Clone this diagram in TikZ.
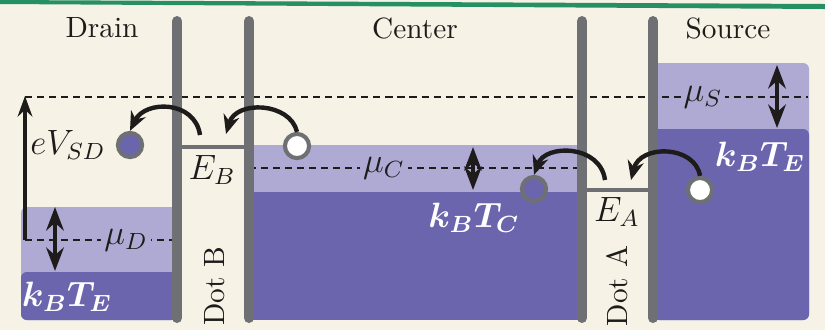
\documentclass[tikz,border=0pt]{standalone}
\usepackage{amsmath}
\usepackage{bm}
\usepackage{tikz}
\usetikzlibrary{arrows.meta,positioning}
\definecolor{dqcream}{RGB}{246,242,230}
\definecolor{dqlight}{RGB}{174,170,212}
\definecolor{dqdark}{RGB}{107,101,174}
\definecolor{dqwall}{RGB}{110,112,115}
\definecolor{dqgreen}{RGB}{38,143,99}
\definecolor{dqink}{RGB}{30,27,27}

\begin{document}
\begin{tikzpicture}[x=0.012cm, y=-0.012cm,
    wall/.style={line width=3.4pt, dqwall, line cap=round},
    level/.style={line width=1.5pt, dqwall},
    fermi/.style={dqink, line width=0.5pt, dash pattern=on 2.4pt off 1.7pt},
    spread/.style={{Stealth[length=8pt,width=6pt]}-{Stealth[length=8pt,width=6pt]}, line width=1.5pt, dqink},
    hop/.style={-{Stealth[length=6.5pt,width=5.5pt]}, line width=1.5pt, dqink},
    carrier/.style={circle, draw=dqwall, line width=1.4pt, fill=#1,
                    minimum size=0.29cm, inner sep=0pt},
    mlabel/.style={text=dqink, font=\large},
    temp/.style={text=white, font=\large},
    title/.style={text=dqink, font=\normalsize}]
\useasboundingbox (0,0) rectangle (825,330);
\fill[dqcream] (0,0) rectangle (825,330);
\fill[dqgreen] (0,0) -- (825,4) -- (825,9) -- (0,4) -- cycle;
% Reservoirs
\fill[dqlight, rounded corners=2pt] (21,207) rectangle (177,320);
\fill[dqdark, rounded corners=2pt] (21,272) rectangle (177,320);
\fill[dqlight] (249,145) rectangle (582,320);
\fill[dqdark] (249,192) rectangle (582,320);
\fill[dqlight, rounded corners=2pt] (653,63) rectangle (809,320);
\fill[dqdark, rounded corners=2pt] (653,129) rectangle (809,320);
% Chemical potentials
\draw[fermi] (25,97) -- (808,97);
\draw[fermi] (25,240) -- (177,240);
\draw[fermi] (249,168) -- (582,168);
\node[mlabel, fill=dqlight, inner sep=1pt] (muS) at (703,97) {$\mu_S$};
\node[mlabel, fill=dqlight, inner sep=1pt] (muD) at (126,240) {$\mu_D$};
\node[mlabel, fill=dqlight, inner sep=1pt] (muC) at (384,168) {$\mu_C$};
\draw[spread] (777,65) -- (777,128);
\draw[spread] (55,207) -- (55,271);
\draw[spread] (473,147) -- (473,190);
% Bias
\draw[-{Stealth[length=7pt,width=5pt]}, line width=1.5pt, dqink] (25,240) -- (25,96);
\node[mlabel] (vsd) at (68,145) {$eV_{SD}$};
% Barriers and dot levels
\draw[wall] (177,21) -- (177,318);
\draw[wall] (249,21) -- (249,318);
\draw[wall] (582,21) -- (582,318);
\draw[wall] (653,21) -- (653,318);
\draw[level] (177,147) -- (249,147);
\draw[level] (582,190) -- (653,190);
\node[mlabel] (EB) at (212,170) {$E_B$};
\node[mlabel] (EA) at (617,212) {$E_A$};
\node[title, rotate=90] (dotB) at (215,286) {Dot B};
\node[title, rotate=90] (dotA) at (617,286) {Dot A};
% Titles
\node[title] (drain) at (102,28) {Drain};
\node[title] (center) at (415,28) {Center};
\node[title] (source) at (728,28) {Source};
\node[temp] (TEd) at (67,297) {$\bm{k_BT_E}$};
\node[temp] (TEs) at (760,157) {$\bm{k_BT_E}$};
\node[temp] (TC) at (474,218) {$\bm{k_BT_C}$};
% Carriers and hops
\node[carrier=dqdark] (eD) at (130,145) {};
\node[carrier=white] (hC) at (297,146) {};
\node[carrier=dqdark] (eC) at (534,189) {};
\node[carrier=white] (hS) at (700,190) {};
\coordinate (lB) at (200,135);
\coordinate (lA) at (605,180);
\draw[hop] (lB) .. controls (195,100) and (145,100) .. (eD.north);
\draw[hop] (hC.north) .. controls (290,102) and (236,100) .. (226,134);
\draw[hop] (lA) .. controls (600,144) and (545,144) .. (eC.north);
\draw[hop] (hS.north) .. controls (695,145) and (640,144) .. (631,180);
\end{tikzpicture}
\end{document}
